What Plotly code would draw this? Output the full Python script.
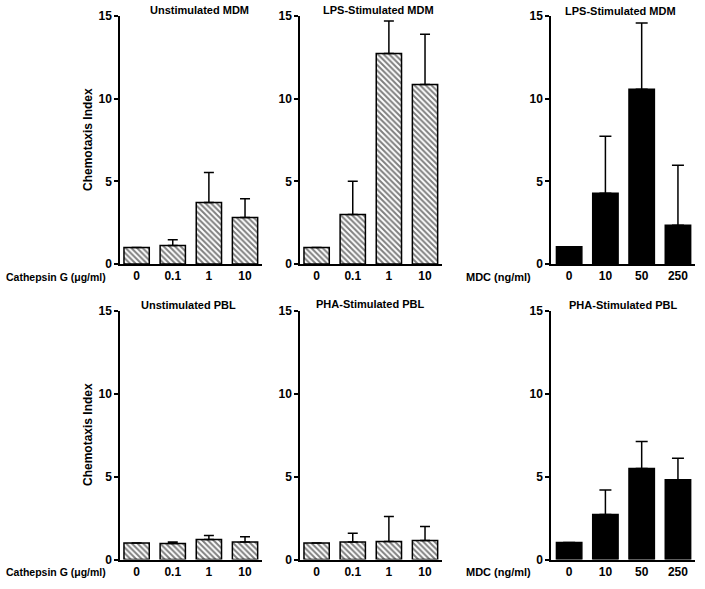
import plotly.graph_objects as go

# ---- data ----
cathepsin_doses = ["0", "0.1", "1", "10"]
mdc_doses = ["0", "10", "50", "250"]

unstim_mdm_mean = [1.0, 1.12, 3.72, 2.81]
unstim_mdm_err = [0.0, 0.35, 1.82, 1.13]

lps_mdm_cat_mean = [1.0, 3.0, 12.73, 10.85]
lps_mdm_cat_err = [0.0, 2.0, 1.97, 3.05]

lps_mdm_mdc_mean = [1.05, 4.28, 10.57, 2.35]
lps_mdm_mdc_err = [0.0, 3.45, 4.01, 3.63]

unstim_pbl_mean = [1.0, 0.97, 1.21, 1.05]
unstim_pbl_err = [0.0, 0.08, 0.24, 0.32]

pha_pbl_cat_mean = [1.0, 1.05, 1.09, 1.15]
pha_pbl_cat_err = [0.0, 0.54, 1.51, 0.84]

pha_pbl_mdc_mean = [1.03, 2.72, 5.5, 4.82]
pha_pbl_mdc_err = [0.0, 1.48, 1.62, 1.29]

panel_titles = ["Unstimulated MDM", "LPS-Stimulated MDM", "LPS-Stimulated MDM",
                "Unstimulated PBL", "PHA-Stimulated PBL", "PHA-Stimulated PBL"]
y_ticks = [0, 5, 10, 15]

# ---- layout constants ----
W, H = 705, 589
FONT = "Liberation Sans"
col_px = [(120, 262), (300, 442), (551, 695)]       # window px
row_px = [(16, 264), (311, 559.5)]                   # (y of 15, y of 0), window px
x_ranges = [[-0.46, 3.47], [-0.46, 3.47], [-0.5, 3.47]]


def fx(px):
    return px / W


def fy(py):
    return 1 - py / H


panels = [
    (cathepsin_doses, unstim_mdm_mean, unstim_mdm_err, "hatch"),
    (cathepsin_doses, lps_mdm_cat_mean, lps_mdm_cat_err, "hatch"),
    (mdc_doses, lps_mdm_mdc_mean, lps_mdm_mdc_err, "solid"),
    (cathepsin_doses, unstim_pbl_mean, unstim_pbl_err, "hatch"),
    (cathepsin_doses, pha_pbl_cat_mean, pha_pbl_cat_err, "hatch"),
    (mdc_doses, pha_pbl_mdc_mean, pha_pbl_mdc_err, "solid"),
]

fig = go.Figure()
layout = dict(
    width=W, height=H, autosize=False,
    margin=dict(l=0, r=0, t=0, b=0, autoexpand=False),
    paper_bgcolor="white", plot_bgcolor="white",
    showlegend=False, bargap=0.3,
    font=dict(family=FONT, color="black"),
)
annotations = []

for i, (cats, mean, err, style) in enumerate(panels):
    r, c = divmod(i, 3)
    n = i + 1
    xa = "x" if n == 1 else f"x{n}"
    ya = "y" if n == 1 else f"y{n}"
    xpos = list(range(len(cats)))
    if style == "hatch":
        marker = dict(color="white", line=dict(color="black", width=1.5),
                      pattern=dict(shape="\\", fgcolor="black", bgcolor="white",
                                   size=4, solidity=0.5))
        cap = 5
    else:
        marker = dict(color="black", line=dict(color="black", width=1.5))
        cap = 6
    fig.add_trace(go.Bar(
        x=xpos, y=mean, xaxis=xa, yaxis=ya, marker=marker,
        error_y=dict(type="data", symmetric=False, array=err,
                     arrayminus=[0] * len(err), color="black",
                     thickness=1.5, width=cap),
        hoverinfo="skip",
    ))
    x0, x1 = col_px[c]
    ytop, ybot = row_px[r]
    xkey = "xaxis" if n == 1 else f"xaxis{n}"
    ykey = "yaxis" if n == 1 else f"yaxis{n}"
    layout[xkey] = dict(
        domain=[fx(x0), fx(x1)], anchor=ya, range=x_ranges[c],
        tickvals=xpos, ticktext=cats, ticks="",
        showline=True, linecolor="black", linewidth=1.5,
        showgrid=False, zeroline=False, fixedrange=True, automargin=False,
        tickfont=dict(family=FONT, size=12, weight="bold", color="black"),
    )
    layout[ykey] = dict(
        domain=[fy(ybot), fy(ytop)], anchor=xa, range=[0, 15],
        tickvals=y_ticks, ticks="outside", ticklen=4, tickwidth=1.5,
        tickcolor="black", showline=True, linecolor="black", linewidth=1.5,
        showgrid=False, zeroline=False, fixedrange=True, automargin=False,
        tickfont=dict(family=FONT, size=12, weight="bold", color="black"),
    )

# panel titles
title_pos = [(199, 10), (378, 10), (620, 11), (188, 305), (370, 304), (623, 305)]
for t, (px, py) in zip(panel_titles, title_pos):
    annotations.append(dict(
        text=t, x=fx(px), y=fy(py), xref="paper", yref="paper",
        xanchor="center", yanchor="middle", showarrow=False,
        font=dict(family=FONT, size=11, weight="bold", color="black")))

# y-axis titles
for py in [140, 435]:
    annotations.append(dict(
        text="Chemotaxis Index", x=fx(88), y=fy(py), xref="paper", yref="paper",
        xanchor="center", yanchor="middle", textangle=-90, showarrow=False,
        font=dict(family=FONT, size=12, weight="bold", color="black")))

# x-axis dose labels
for py in [277, 572]:
    annotations.append(dict(
        text="Cathepsin G (\u03bcg/ml)", x=fx(108), y=fy(py),
        xref="paper", yref="paper", xanchor="right", yanchor="middle",
        showarrow=False,
        font=dict(family=FONT, size=10.5, weight="bold", color="black")))
    annotations.append(dict(
        text="MDC (ng/ml)", x=fx(533), y=fy(py),
        xref="paper", yref="paper", xanchor="right", yanchor="middle",
        showarrow=False,
        font=dict(family=FONT, size=11, weight="bold", color="black")))

layout["annotations"] = annotations
fig.update_layout(**layout)
fig.write_html("out.html", config={"displayModeBar": False},
               post_script="document.body.style.margin='0px';")
